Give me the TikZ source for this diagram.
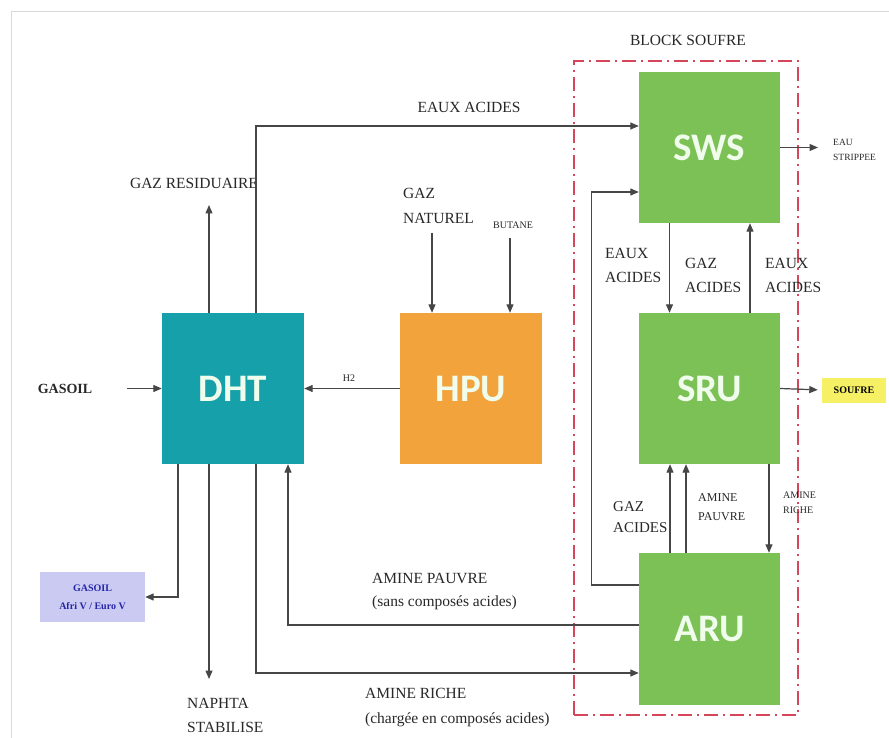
\documentclass[tikz,border=0pt]{standalone}
\usepackage{fontspec}
\setmainfont{Liberation Serif}
\newfontfamily\blockfont{Carlito}
\usetikzlibrary{arrows.meta}
\definecolor{dhtc}{RGB}{22,160,170}
\definecolor{hpuc}{RGB}{242,163,60}
\definecolor{unitg}{RGB}{124,193,86}
\definecolor{gasboxc}{RGB}{202,202,242}
\definecolor{gastxt}{RGB}{36,36,168}
\definecolor{soufc}{RGB}{245,240,100}
\definecolor{blockc}{RGB}{214,70,90}
\definecolor{linec}{RGB}{70,70,70}
\definecolor{txtc}{RGB}{40,40,40}
\begin{document}
\begin{tikzpicture}[x=1pt,y=-1pt,
  unit/.style={draw=none, minimum width=142pt, minimum height=151pt, inner sep=0pt,
    font=\blockfont\bfseries\fontsize{39}{40}\selectfont, text={rgb,255:red,240;green,252;blue,236}},
  lbl/.style={inner sep=0pt, anchor=west, align=left, text=txtc,
    font=\fontsize{15.5}{24}\selectfont},
  clbl/.style={inner sep=0pt, align=center, text=txtc,
    font=\fontsize{15.5}{24}\selectfont},
  conn/.style={draw=linec, line width=1.2pt, -{Triangle[length=8.5pt,width=7pt]}},
  blockline/.style={draw=blockc, line width=1.5pt, dash pattern=on 14pt off 5pt on 2pt off 5pt}
]
\useasboundingbox (0,0) rectangle (889,738);
\fill[white] (0,0) rectangle (889,738);
% outer frame
\draw[gray!30, line width=1.5pt] (11.5,740) -- (11.5,11.5) -- (890,11.5);

% block soufre
\node[blockline, minimum width=224pt, minimum height=654pt, inner sep=0pt] (block) at (686,388) {};
\node[clbl] (blocklbl) at (688,40) {BLOCK SOUFRE};

% units
\node[unit, fill=dhtc] (dht) at (233,388.5) {DHT};
\node[unit, fill=hpuc] (hpu) at (471,388.5) {HPU};
\node[unit, fill=unitg, minimum width=141pt] (sws) at (709.5,147.5) {SWS};
\node[unit, fill=unitg, minimum width=141pt] (sru) at (709.5,388.5) {SRU};
\node[unit, fill=unitg, minimum width=141pt, minimum height=152pt] (aru) at (709.5,629) {ARU};

% side boxes
\node[fill=gasboxc, minimum width=105pt, minimum height=50pt, inner sep=0pt, align=center,
  text=gastxt, font=\bfseries\fontsize{10}{18}\selectfont] (gasbox) at (92.5,597) {GASOIL\\Afri V / Euro V};
\node[fill=soufc, minimum width=64pt, minimum height=25pt, inner sep=0pt,
  font=\bfseries\fontsize{10}{12}\selectfont] (soufre) at (854,390) {SOUFRE};

% labels
\node[clbl, font=\bfseries\fontsize{14}{16}\selectfont] (gasoil) at (65,388.5) {GASOIL};
\node[clbl] (resid) at (194,183) {GAZ RESIDUAIRE};
\node[clbl] (eauxtop) at (469,107) {EAUX ACIDES};
\node[lbl, font=\fontsize{15.5}{25}\selectfont] (gn) at (403,205.5) {GAZ\\NATUREL};
\node[clbl, font=\fontsize{10}{12}\selectfont] (butane) at (513,225) {BUTANE};
\node[clbl, font=\fontsize{10}{12}\selectfont] (h2) at (349,378) {H2};
\node[lbl, font=\fontsize{9.5}{15}\selectfont] (strip) at (833,149.5) {EAU\\STRIPPEE};
\node[lbl] (ea1) at (605,265) {EAUX\\ACIDES};
\node[lbl] (ga1) at (685,275) {GAZ\\ACIDES};
\node[lbl] (ea2) at (765,275) {EAUX\\ACIDES};
\node[lbl, font=\fontsize{15}{21}\selectfont] (ga2) at (613,517.5) {GAZ\\ACIDES};
\node[lbl, font=\fontsize{12}{19}\selectfont] (ap2) at (698,507.5) {AMINE\\PAUVRE};
\node[lbl, font=\fontsize{10}{15}\selectfont] (ar2) at (783,502.5) {AMINE\\RICHE};
\node[lbl, font=\fontsize{15.5}{23}\selectfont] (ap1) at (372,591.5) {AMINE PAUVRE\\(sans composés acides)};
\node[lbl, font=\fontsize{15.5}{25}\selectfont] (ar1) at (365,707.5) {AMINE RICHE\\(chargée en composés acides)};
\node[lbl] (naphta) at (187,715) {NAPHTA\\STABILISE};

% free ends
\coordinate (gasin) at (127,388.5);
\coordinate (residtip) at (209,205);
\coordinate (gntop) at (432,233);
\coordinate (butop) at (510,238);
\coordinate (naphtip) at (209,679);
\coordinate (striptip) at (818,147.5);

% connectors
\draw[conn] (gasin) -- (dht.west);
\draw[conn] (hpu.west) -- (dht.east);
\draw[conn] (dht.north -| residtip) -- (residtip);
\draw[conn] ([xshift=23pt]dht.north) |- ([yshift=21.5pt]sws.west);
\draw[conn] (gntop) -- (hpu.north -| gntop);
\draw[conn] (butop) -- (hpu.north -| butop);
\draw[conn] ([xshift=-55pt]dht.south) |- (gasbox.east);
\draw[conn] (dht.south -| naphtip) -- (naphtip);
\draw[conn] ([xshift=23pt]dht.south) |- ([yshift=-44pt]aru.west);
\draw[conn] ([yshift=4pt]aru.west) -| ([xshift=55pt]dht.south);
\draw[conn] ([yshift=44pt]aru.west) -- ++(-47,0) |- ([yshift=-44.5pt]sws.west);
\draw[conn] ([xshift=-40pt]sws.south) -- ([xshift=-40pt]sru.north);
\draw[conn] ([xshift=40.5pt]sru.north) -- ([xshift=40.5pt]sws.south);
\draw[conn] (sws.east) -- (striptip);
\draw[conn, shorten >=4pt] (sru.east) -- (soufre.west);
\draw[conn] ([xshift=-39.5pt]aru.north) -- ([xshift=-39.5pt]sru.south);
\draw[conn] ([xshift=-23.5pt]aru.north) -- ([xshift=-23.5pt]sru.south);
\draw[conn] ([xshift=59.5pt]sru.south) -- ([xshift=59.5pt]aru.north);
\end{tikzpicture}
\end{document}
